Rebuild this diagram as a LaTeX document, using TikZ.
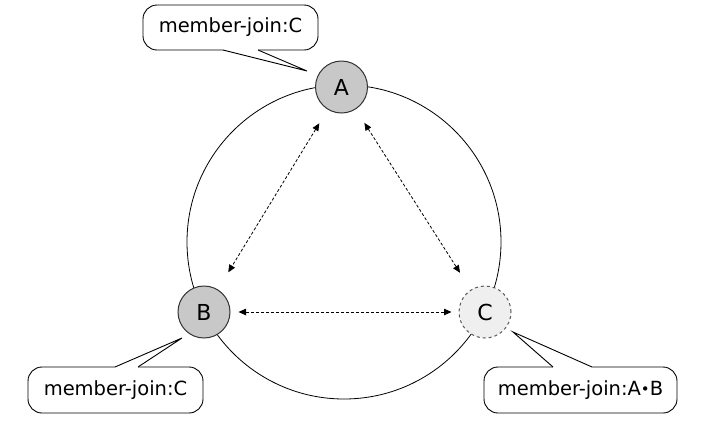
\documentclass[tikz,border=0pt]{standalone}
\usepackage{fontspec}
\setmainfont{DejaVu Sans}
\usetikzlibrary{arrows.meta}
\definecolor{nodegray}{HTML}{C8C8C8}
\definecolor{nodelight}{HTML}{EEEFEE}
\definecolor{linegray}{HTML}{333333}
\begin{document}
\begin{tikzpicture}[x=1pt,y=-1pt,
  member/.style={circle, draw=linegray, line width=1pt, fill=nodegray, minimum size=52pt, inner sep=0pt,
    font=\fontsize{22}{22}\selectfont},
  newmember/.style={member, fill=nodelight, draw=black!65, dashed},
  ring/.style={draw=black, line width=0.8pt},
  dasharrow/.style={draw=black, line width=0.8pt, dash pattern=on 3pt off 2pt,
    {Triangle[length=7.5pt,width=6.5pt]}-{Triangle[length=7.5pt,width=6.5pt]}},
  callbox/.style={draw=black, line width=0.9pt, fill=white, rounded corners=14pt, inner sep=0pt,
    font=\fontsize{19.5}{19.5}\selectfont},
  tailfill/.style={fill=white},
  tailline/.style={draw=black, line width=0.9pt, line join=miter}
]
\useasboundingbox (0,0) rectangle (707,421);
% ring
\draw[ring] (344,242) circle[radius=157];
% members
\node[member] (A) at (341.5,87) {A};
\node[member] (B) at (204,312) {B};
\node[newmember] (C) at (485,312) {C};
% connections
\draw[dasharrow, shorten <=16pt, shorten >=20pt] (A) -- (B);
\draw[dasharrow, shorten <=16pt, shorten >=20pt] (A) -- (C);
\draw[dasharrow, shorten <=8pt, shorten >=7pt] (B) -- (C);
% callout A
\node[callbox, minimum width=175pt, minimum height=45pt] (cA) at (230.5,27.5) {member-join:C};
\coordinate (tA) at (307,71);
\fill[tailfill] (223,46) -- (258,46) -- (258,50) -- (tA) -- (223,50) -- cycle;
\draw[tailline] (223,50) -- (tA) -- (258,50);
% callout B
\node[callbox, minimum width=175pt, minimum height=46pt] (cB) at (115.5,390) {member-join:C};
\coordinate (tB) at (182,338);
\fill[tailfill] (115,371) -- (138,371) -- (138,367) -- (tB) -- (115,367) -- cycle;
\draw[tailline] (115,367) -- (tB) -- (138,367);
% callout C
\node[callbox, minimum width=193pt, minimum height=46pt] (cC) at (580.5,390) {member-join:A{\fontsize{15}{15}\selectfont\raisebox{0.5pt}{•}}B};
\coordinate (tC) at (513,332);
\fill[tailfill] (553,371) -- (592,371) -- (592,367) -- (tC) -- (553,367) -- cycle;
\draw[tailline] (553,367) -- (tC) -- (592,367);
\end{tikzpicture}
\end{document}
